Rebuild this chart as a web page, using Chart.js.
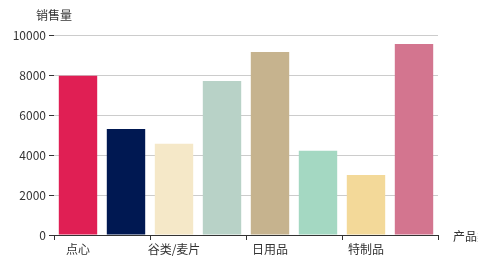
<!DOCTYPE html>
<html>
<head>
<meta charset="utf-8">
<script src="https://cdn.jsdelivr.net/npm/chart.js@4/dist/chart.umd.min.js"></script>
<style>
  html, body { margin: 0; padding: 0; background: #fff; }
  canvas { display: block; }
</style>
</head>
<body>
<canvas id="barChart" width="478" height="267"></canvas>
<script>
// product categories and sales
const categories = ["点心", "调味品", "谷类/麦片", "海鲜", "日用品", "肉/家禽", "特制品", "饮料"];
const sales = [7960, 5300, 4560, 7700, 9150, 4210, 3000, 9550];
const yTicks = [0, 2000, 4000, 6000, 8000, 10000];
const barColors = ["#e01f54", "#001852", "#f5e8c8", "#b8d2c7", "#c6b38e", "#a4d8c2", "#f3d999", "#d3758f"];

const FONT = "'Noto Sans CJK SC', 'Noto Sans', sans-serif";

// axis names drawn as text on the canvas
const axisNames = {
  id: "axisNames",
  afterDraw(chart) {
    const ctx = chart.ctx;
    const area = chart.chartArea;
    ctx.save();
    ctx.fillStyle = "#333";
    ctx.font = "12px " + FONT;
    ctx.textBaseline = "middle";
    ctx.textAlign = "center";
    ctx.fillText("销售量", area.left, area.top - 20);
    ctx.textAlign = "left";
    ctx.fillText("产品类", area.right + 15, area.bottom + 1);
    ctx.restore();
  },
};

const ctx = document.getElementById("barChart").getContext("2d");
new Chart(ctx, {
  type: "bar",
  data: {
    labels: categories,
    datasets: [
      {
        label: "销售量",
        data: sales,
        backgroundColor: barColors,
        borderWidth: 0,
        barPercentage: 0.8,
        categoryPercentage: 1.0,
      },
    ],
  },
  options: {
    responsive: false,
    animation: false,
    layout: { padding: { top: 35, right: 40, left: 0, bottom: 0 } },
    plugins: {
      legend: { display: false },
      tooltip: { enabled: false },
    },
    scales: {
      x: {
        offset: true,
        afterFit(scale) { scale.height = 32; },
        border: { display: true, color: "#333", width: 1 },
        grid: {
          offset: true,
          drawOnChartArea: false,
          drawTicks: true,
          tickLength: 5,
          tickColor: (c) => (c.index === undefined || c.index % 2 === 0 ? "#333" : "rgba(0,0,0,0)"),
        },
        ticks: {
          autoSkip: false,
          maxRotation: 0,
          padding: 2,
          color: "#333",
          font: { size: 12, family: FONT },
          callback: function (value, index) {
            return index % 2 === 0 ? this.getLabelForValue(value) : "";
          },
        },
      },
      y: {
        min: yTicks[0],
        max: yTicks[yTicks.length - 1],
        afterFit(scale) { scale.width = 54; },
        afterBuildTicks(scale) { scale.ticks = yTicks.map((v) => ({ value: v })); },
        border: { display: false },
        grid: {
          color: "#ccc",
          lineWidth: 1,
          drawTicks: true,
          tickLength: 5,
          tickColor: "#333",
        },
        ticks: {
          padding: 3,
          color: "#333",
          font: { size: 12, family: FONT },
          callback: (value) => String(value),
        },
      },
    },
  },
  plugins: [axisNames],
});
</script>
</body>
</html>
